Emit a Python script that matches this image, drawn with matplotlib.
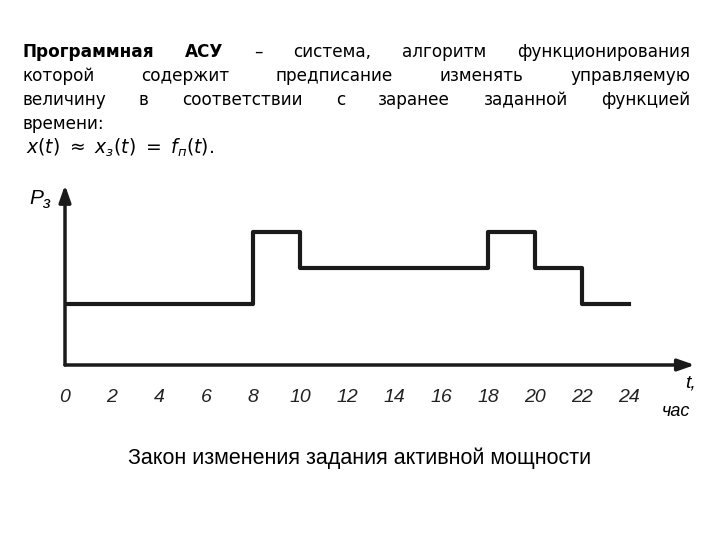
import matplotlib
matplotlib.use("Agg")
import matplotlib.pyplot as plt

hours = [0, 8, 10, 18, 20, 22, 24]
levels = [61, 133, 97, 133, 97, 61, 61]   # step value starting at each hour
ticks = list(range(0, 25, 2))

lines = [
    [("Программная", "bold"), ("АСУ", "bold"), ("–", "normal"), ("система,", "normal"), ("алгоритм", "normal"), ("функционирования", "normal")],
    [(w, "normal") for w in "которой содержит предписание изменять управляемую".split()],
    [(w, "normal") for w in "величину в соответствии с заранее заданной функцией".split()],
]

W, H = 720, 540
fig = plt.figure(figsize=(7.2, 5.4), dpi=100)
fig.patch.set_facecolor("white")

def fx(px): return px / W
def fy(py): return 1 - py / H

r = fig.canvas.get_renderer()
L, R = 22, 690
ys = [52, 76, 100]
for ln, y in zip(lines, ys):
    ts = [fig.text(0, fy(y), w, fontsize=12.2, fontweight=wt, family="DejaVu Sans", va="center") for w, wt in ln]
    widths = [t.get_window_extent(r).width for t in ts]
    gap = (R - L - sum(widths)) / (len(ts) - 1)
    x = L
    for t, wd in zip(ts, widths):
        t.set_x(fx(x)); x += wd + gap
fig.text(fx(L), fy(124), "времени:", fontsize=12.2, family="DejaVu Sans", va="center")
fig.text(fx(26), fy(148), r"$x(t)\ \approx\ x_{з}(t)\ =\ f_{п}(t).$", fontsize=13.5, va="center")

ax = fig.add_axes([fx(65), fy(365), fx(695 - 65), (365 - 185) / H])
ax.set_xlim(0, (695 - 65) / 23.5)
ax.set_ylim(0, 180)
ax.step(hours, levels, where="post", color="#1a1a1a", lw=3)
for s in ax.spines.values(): s.set_visible(False)
ax.set_xticks([]); ax.set_yticks([])
ax.annotate("", xy=(26.8, 0), xytext=(0, 0), annotation_clip=False,
            arrowprops=dict(arrowstyle="-|>,head_length=1.0,head_width=0.35", color="#1a1a1a", lw=2.5, shrinkA=0, shrinkB=0))
ax.annotate("", xy=(0, 180), xytext=(0, 0), annotation_clip=False,
            arrowprops=dict(arrowstyle="-|>,head_length=1.0,head_width=0.35", color="#1a1a1a", lw=2.5, shrinkA=0, shrinkB=0))
for t in ticks:
    ax.text(t, -32, str(t), ha="center", va="center", fontsize=14, style="italic", family="Liberation Sans", color="#222")
ax.text(26.6, -18, "t,", ha="center", va="center", fontsize=14, style="italic", family="Liberation Sans")
ax.text(26.0, -47, "час", ha="center", va="center", fontsize=13, style="italic", family="Liberation Sans")
fig.text(fx(29), fy(198), "P", fontsize=15, style="italic", family="Liberation Sans", va="center")
fig.text(fx(42), fy(203), "з", fontsize=12, style="italic", family="Liberation Sans", va="center")

fig.text(0.5, fy(458), "Закон изменения задания активной мощности", ha="center", va="center",
         fontsize=15.5, family="Liberation Sans")
fig.savefig("out.png", dpi=100)
